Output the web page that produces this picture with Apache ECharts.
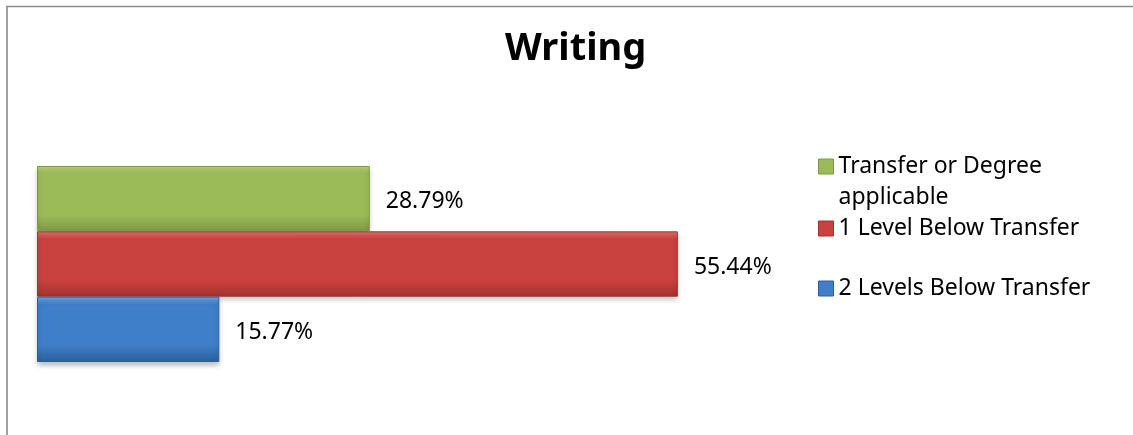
<!DOCTYPE html>
<html>
<head>
<meta charset="utf-8">
<script src="https://cdn.jsdelivr.net/npm/echarts@6/dist/echarts.min.js"></script>
<style>
  html, body { margin: 0; padding: 0; background: #fff; overflow: hidden; }
  #chart { width: 1133px; height: 435px; }
</style>
</head>
<body>
<div id="chart"></div>
<script>
// one category, three series
const categories = ['Writing']
const seriesNames = ['Transfer or Degree applicable', '1 Level Below Transfer', '2 Levels Below Transfer']
const seriesValues = [28.79, 55.44, 15.77]

// light / mid / dark shades for the bevelled bars
const shades = [
  ['#b9d377', '#9bbb59', '#7d9945'],
  ['#e2706d', '#c9423f', '#a23330'],
  ['#6aa6e6', '#3f7ec8', '#2d5f9c']
]

const fontFamily = '"Noto Sans", "Open Sans", sans-serif'

function bevel(s) {
  return new echarts.graphic.LinearGradient(0, 0, 0, 1, [
    { offset: 0, color: s[0] },
    { offset: 0.12, color: s[1] },
    { offset: 0.75, color: s[1] },
    { offset: 1, color: s[2] }
  ])
}

const chart = echarts.init(document.getElementById('chart'))

const seriesList = seriesNames.map((name, index) => {
  return {
    name: name,
    type: 'bar',
    data: [seriesValues[index]],
    barGap: '0%',
    barCategoryGap: '0%',
    itemStyle: {
      color: bevel(shades[index]),
      borderColor: shades[index][2],
      borderWidth: 1,
      shadowColor: 'rgba(0,0,0,0.25)',
      shadowBlur: 5,
      shadowOffsetY: 3
    },
    label: {
      show: true,
      position: 'right',
      distance: 16,
      offset: [0, 3],
      formatter: '{c}%',
      color: '#000',
      fontFamily: fontFamily,
      fontSize: 23
    },
    animation: false
  }
})

// one legend per item; the wrapped first entry gets an empty line on top
// so its marker sits level with "Transfer or Degree"
const legendTops = [120, 213, 273]
const legendList = seriesNames.map((name, index) => {
  return {
    data: [name],
    orient: 'vertical',
    left: 818,
    top: legendTops[index],
    padding: 0,
    itemWidth: 15,
    itemHeight: 15,
    itemGap: 0,
    icon: 'rect',
    selectedMode: false,
    itemStyle: { color: shades[index][1], borderColor: shades[index][2], borderWidth: 1 },
    formatter: n => n === 'Transfer or Degree applicable' ? ' \nTransfer or Degree\napplicable' : n,
    textStyle: {
      color: '#000',
      fontFamily: fontFamily,
      fontSize: 23,
      lineHeight: 31
    }
  }
})

chart.setOption({
  // chart-area border: only its top and left edges fall inside the picture
  graphic: [{
    type: 'polyline',
    silent: true,
    shape: { points: [[7, 440], [7, 6.5], [1133, 6.5]] },
    style: { stroke: '#8a8a8a', lineWidth: 1.6, fill: null }
  }],
  title: {
    text: 'Writing',
    left: 500,
    top: 25,
    textStyle: {
      color: '#000',
      fontFamily: fontFamily,
      fontWeight: 'bold',
      fontSize: 38
    }
  },
  legend: legendList,
  grid: {
    left: 37,
    top: 166,
    width: 693.6,
    height: 196
  },
  xAxis: {
    type: 'value',
    min: 0,
    max: 60,
    show: false
  },
  yAxis: {
    type: 'category',
    data: categories,
    inverse: true,
    show: false
  },
  series: seriesList
})
</script>
</body>
</html>
